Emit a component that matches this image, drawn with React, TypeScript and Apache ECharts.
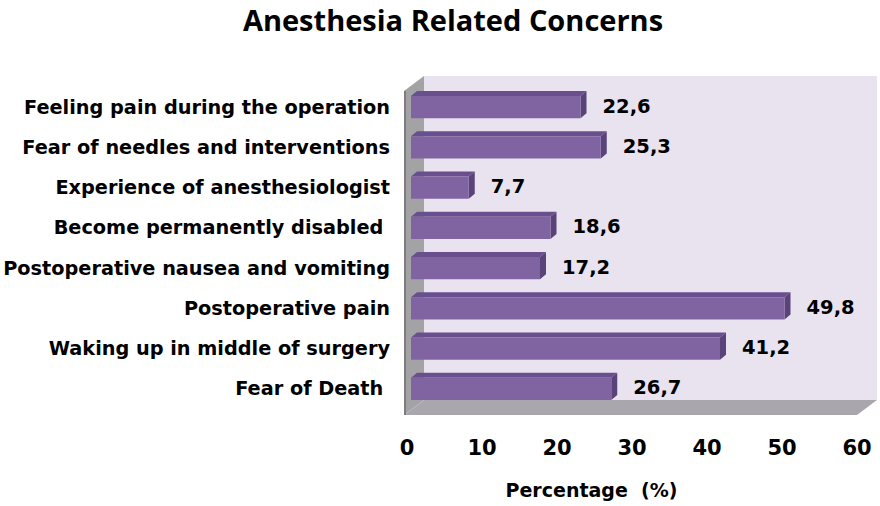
import React, { useEffect, useRef } from "react";
import * as echarts from "echarts";

const titleText = "Anesthesia Related Concerns";
const categories = [
  "Feeling pain during the operation",
  "Fear of needles and interventions",
  "Experience of anesthesiologist",
  "Become permanently disabled ",
  "Postoperative nausea and vomiting",
  "Postoperative pain",
  "Waking up in middle of surgery",
  "Fear of Death ",
];
const values = [22.6, 25.3, 7.7, 18.6, 17.2, 49.8, 41.2, 26.7];
const xMin = 0;
const xMax = 60;
const xInterval = 10;
const xAxisName = "Percentage  (%)";

const FONT = "'DejaVu Sans', Verdana, sans-serif";

export default function App() {
  const ref = useRef<HTMLDivElement>(null);
  useEffect(() => {
    if (!ref.current) return;
    const chart = echarts.init(ref.current, null, { renderer: "svg" });
    const DX = 20;
    const DY = -15;
    const option: any = {
      animation: false,
      backgroundColor: "#ffffff",
      title: {
        text: titleText,
        left: 448,
        textAlign: "center",
        top: 0,
        textStyle: {
          fontFamily: "'Open Sans', sans-serif",
          fontWeight: "bold",
          fontSize: 29,
          color: "#000",
        },
      },
      grid: { left: 407, right: 23, top: 87, bottom: 97, containLabel: false },
      xAxis: {
        type: "value",
        min: xMin,
        max: xMax,
        interval: xInterval,
        axisLine: { show: false },
        axisTick: { show: false },
        splitLine: { show: false },
        axisLabel: {
          margin: 28,
          fontFamily: FONT,
          fontWeight: "bold",
          fontSize: 21,
          color: "#000",
        },
        name: xAxisName,
        nameLocation: "middle",
        nameGap: 71,
        nameTextStyle: {
          fontFamily: FONT,
          fontWeight: "bold",
          fontSize: 19,
          color: "#000",
          padding: [0, 81, 0, 0],
        },
      },
      yAxis: {
        type: "category",
        data: categories,
        inverse: true,
        axisLine: { show: false },
        axisTick: { show: false },
        splitLine: { show: false },
        axisLabel: {
          margin: 17,
          fontFamily: FONT,
          fontWeight: "bold",
          fontSize: 19.3,
          color: "#000",
        },
      },
      series: [
        {
          type: "custom",
          z: 1,
          silent: true,
          data: [[0, 0]],
          renderItem: (params: any, api: any) => {
            const cs = params.coordSys;
            const left = cs.x - 3;
            const right = cs.x + cs.width;
            const top = cs.y + 4;
            const bottom = cs.y + cs.height + 6;
            return {
              type: "group",
              children: [
                {
                  type: "rect",
                  shape: { x: left + DX, y: top + DY, width: right - left, height: bottom - top },
                  style: { fill: "#e8e3ef" },
                },
                {
                  type: "polygon",
                  shape: {
                    points: [
                      [left, top],
                      [left + DX, top + DY],
                      [left + DX, bottom + DY],
                      [left, bottom],
                    ],
                  },
                  style: { fill: "#a3a3a6" },
                },
                {
                  type: "polygon",
                  shape: {
                    points: [
                      [left, bottom],
                      [left + DX, bottom + DY],
                      [right + DX, bottom + DY],
                      [right, bottom],
                    ],
                  },
                  style: { fill: "#a9a6ae" },
                },
                {
                  type: "line",
                  shape: { x1: left + 1, y1: top, x2: left + 1, y2: bottom },
                  style: { stroke: "#7d7d80", lineWidth: 2 },
                },
              ],
            };
          },
        },
        {
          type: "custom",
          z: 2,
          silent: true,
          data: values.map((v, i) => [v, i]),
          encode: { x: 0, y: 1 },
          renderItem: (params: any, api: any) => {
            const v = api.value(0);
            const idx = api.value(1);
            const p0 = api.coord([0, idx]);
            const p1 = api.coord([v, idx]);
            const band = api.size([0, 1])[1];
            const h = band * 0.55;
            const x0 = p0[0] + 4;
            const x1 = p1[0] + 4;
            const yt = p0[1] - h / 2;
            const yb = p0[1] + h / 2;
            const dx = 6;
            const dy = -5;
            return {
              type: "group",
              children: [
                {
                  type: "polygon",
                  shape: {
                    points: [
                      [x0, yt],
                      [x1, yt],
                      [x1 + dx, yt + dy],
                      [x0 + dx, yt + dy],
                    ],
                  },
                  style: { fill: "#6a4f8e" },
                },
                {
                  type: "polygon",
                  shape: {
                    points: [
                      [x1, yt],
                      [x1 + dx, yt + dy],
                      [x1 + dx, yb + dy],
                      [x1, yb],
                    ],
                  },
                  style: { fill: "#594379" },
                },
                {
                  type: "rect",
                  shape: { x: x0, y: yt, width: x1 - x0, height: yb - yt },
                  style: { fill: "#8064a2" },
                },
                {
                  type: "text",
                  x: x1 + 22,
                  y: p0[1] - 1,
                  style: {
                    text: String(v).replace(".", ","),
                    fontFamily: FONT,
                    fontWeight: "bold",
                    fontSize: 19.5,
                    fill: "#000",
                    textAlign: "left",
                    textVerticalAlign: "middle",
                  },
                },
              ],
            };
          },
        },
      ],
    };
    chart.setOption(option);
    return () => chart.dispose();
  }, []);
  return (
    <div
      ref={ref}
      style={{ position: "fixed", left: 0, top: 0, width: 880, height: 506 }}
    />
  );
}
